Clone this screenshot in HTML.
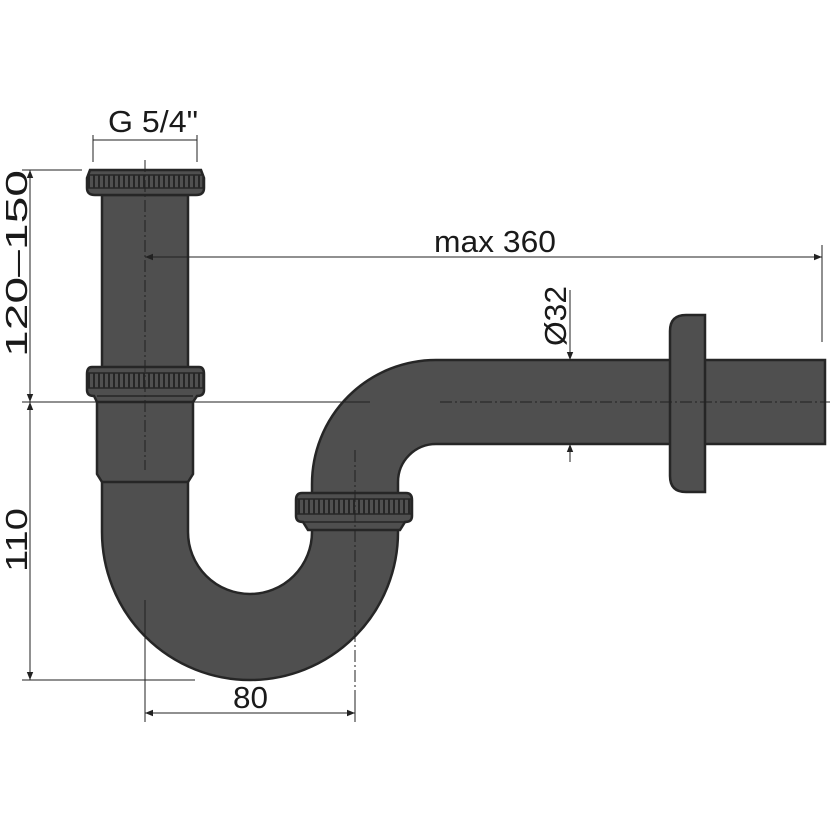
<!DOCTYPE html>
<html><head><style>html,body{margin:0;padding:0;background:#fff}svg{display:block}</style></head>
<body>
<svg width="830" height="830" viewBox="0 0 830 830" xmlns="http://www.w3.org/2000/svg" font-family="Liberation Sans, sans-serif">
<defs>
<pattern id="kn" x="0" y="0" width="5" height="10" patternUnits="userSpaceOnUse">
<rect width="5" height="10" fill="#505050"/><rect x="3" width="2" height="10" fill="#262626"/>
</pattern>
<marker id="ar" viewBox="0 0 10 10" refX="10" refY="5" markerWidth="10" markerHeight="8" orient="auto-start-reverse" markerUnits="userSpaceOnUse"><path d="M0,1 L10,5 L0,9 z" fill="#222"/></marker>
</defs>
<g fill="#4f4f4f" stroke="#262626" stroke-width="2.5">
<path d="M102,195 L188,195 L188,532 A62,62 0 0 0 312,532 L312,484 A124,124 0 0 1 436,360 L825,360 L825,444 L436,444 A38,38 0 0 0 398,482 L398,532 A148,148 0 0 1 102,532 Z"/>
<path d="M97,398 L193,398 L193,474 L188,482 L102,482 L97,474 Z"/>
<path d="M90,170 L201,170 L204,178 L204,188 Q204,195 196,195 L95,195 Q87,195 87,188 L87,178 Z"/>
<path d="M92,367 L199,367 Q204,367 204,374 L204,390 Q204,396 197,396 L193,402 L97,402 L94,396 Q87,396 87,390 L87,374 Q87,367 92,367 Z"/>
<path d="M302,493 L406,493 Q412,493 412,500 L412,516 Q412,522 405,522 L400,530 L308,530 L303,522 Q296,522 296,516 L296,500 Q296,493 302,493 Z"/>
<path d="M686,315 L705,315 L705,492 L686,492 Q670,492 670,476 L670,331 Q670,315 686,315 Z"/>
</g>
<g stroke="#262626" stroke-width="1.5">
<rect x="88" y="175" width="115" height="13" fill="url(#kn)"/>
<rect x="88" y="373" width="115" height="15" fill="url(#kn)"/>
<rect x="297" y="499" width="114" height="15" fill="url(#kn)"/>
<line x1="97" y1="396" x2="193" y2="396"/>
<line x1="303" y1="522" x2="405" y2="522"/>
</g>
<g stroke="#222" stroke-width="1" stroke-dasharray="12,3,2,3" fill="none">
<line x1="145" y1="160" x2="145" y2="470"/>
<line x1="355" y1="450" x2="355" y2="720"/>
<line x1="440" y1="402" x2="830" y2="402"/>
</g>
<g stroke="#222" stroke-width="1" fill="none">
<line x1="93" y1="135" x2="93" y2="162"/>
<line x1="197" y1="135" x2="197" y2="162"/>
<line x1="93" y1="140" x2="197" y2="140"/>
<line x1="145" y1="257" x2="822" y2="257" marker-start="url(#ar)" marker-end="url(#ar)"/>
<line x1="822" y1="245" x2="822" y2="342"/>
<line x1="570" y1="290" x2="570" y2="360" marker-end="url(#ar)"/>
<line x1="570" y1="462" x2="570" y2="444" marker-end="url(#ar)"/>
<line x1="22" y1="170" x2="82" y2="170"/>
<line x1="22" y1="402" x2="370" y2="402"/>
<line x1="22" y1="680" x2="195" y2="680"/>
<line x1="30" y1="170" x2="30" y2="402" marker-start="url(#ar)" marker-end="url(#ar)"/>
<line x1="30" y1="402" x2="30" y2="680" marker-start="url(#ar)" marker-end="url(#ar)"/>
<line x1="145" y1="600" x2="145" y2="722"/>
<line x1="355" y1="690" x2="355" y2="722"/>
<line x1="145" y1="713" x2="355" y2="713" marker-start="url(#ar)" marker-end="url(#ar)"/>
</g>
<g fill="#1a1a1a" font-size="31">
<text x="108" y="132" textLength="90" lengthAdjust="spacingAndGlyphs">G 5/4"</text>
<text x="434" y="252" textLength="122" lengthAdjust="spacingAndGlyphs">max 360</text>
<text x="233" y="708" textLength="35" lengthAdjust="spacingAndGlyphs">80</text>
<text transform="translate(27,357) rotate(-90)" textLength="187" lengthAdjust="spacingAndGlyphs">120–150</text>
<text transform="translate(27,572) rotate(-90)" textLength="64" lengthAdjust="spacingAndGlyphs">110</text>
<text transform="translate(566,346) rotate(-90)" textLength="60" lengthAdjust="spacingAndGlyphs">Ø32</text>
</g>
</svg>
</body></html>
